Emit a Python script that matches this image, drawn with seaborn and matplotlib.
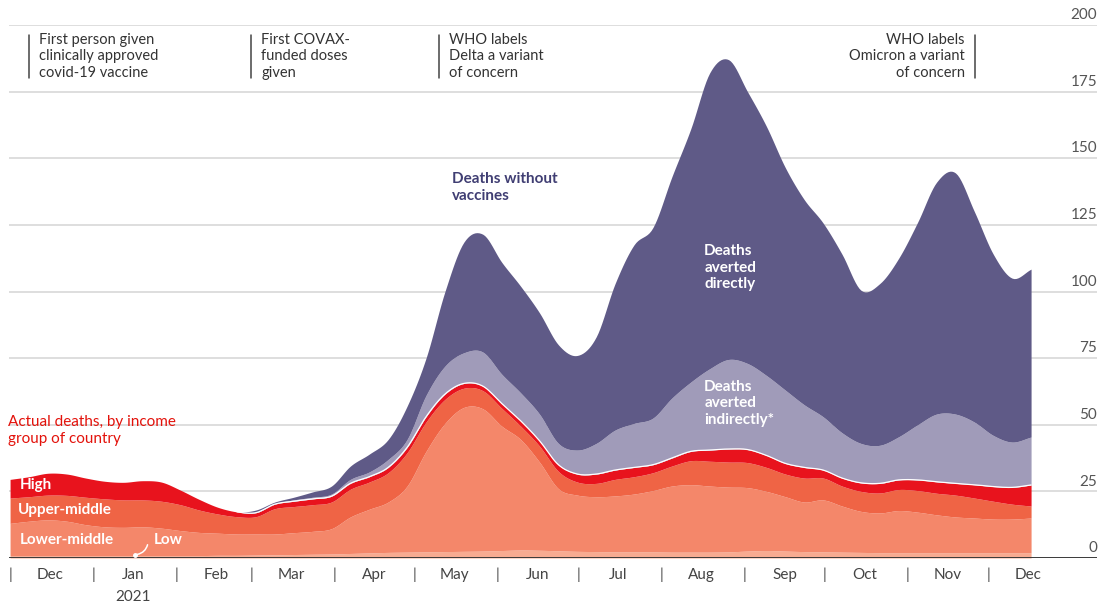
import numpy as np
import pandas as pd
import matplotlib.pyplot as plt
import matplotlib.dates as mdates
import seaborn as sns

# weekly readings, Dec 1st 2020 to Dec 17th 2021 (thousands of deaths per week)
dates = pd.date_range("2020-12-01", "2021-12-17", periods=55)

low = [0.9, 0.9, 0.9, 0.9, 0.9, 0.9, 0.9, 0.9, 0.9, 0.9, 0.9, 1.0, 1.0, 1.1, 1.2,
       1.3, 1.4, 1.5, 1.7, 1.9, 2.1, 2.2, 2.3, 2.4, 2.5, 2.6, 2.8, 3.0, 2.9, 2.7,
       2.5, 2.4, 2.3, 2.3, 2.3, 2.2, 2.2, 2.2, 2.3, 2.6, 2.8, 2.6, 2.4, 2.3, 2.2,
       2.1, 2.0, 2.0, 2.0, 2.0, 2.0, 2.0, 2.0, 2.0, 2.0]
lower_middle = [12.1, 12.9, 13.4, 12.9, 11.6, 10.8, 10.6, 10.8, 10.3, 9.4, 8.7, 8.3, 8.0, 7.9, 7.8,
                8.2, 8.6, 9.5, 13.7, 16.4, 18.9, 24.8, 37.7, 48.1, 54.0, 53.4, 46.7, 41.5, 33.1, 23.3,
                21.1, 20.6, 21.0, 21.7, 23.0, 24.8, 25.3, 24.8, 24.3, 23.8, 22.2, 20.4, 18.6, 19.5, 17.3,
                15.4, 14.9, 15.8, 15.2, 14.2, 13.4, 13.0, 12.6, 12.6, 13.0]
upper_middle = [9.5, 9.2, 9.3, 9.7, 10.3, 10.5, 10.3, 10.1, 10.1, 9.7, 8.4, 7.2, 6.5, 6.5, 9.5,
                9.8, 10.0, 10.0, 10.4, 10.2, 11.0, 12.5, 11.0, 9.0, 7.2, 6.8, 6.7, 5.0, 6.0, 6.5,
                4.9, 5.0, 6.2, 6.5, 6.7, 7.5, 9.0, 9.3, 9.4, 9.4, 9.0, 8.5, 9.0, 8.2, 7.5,
                7.5, 7.5, 7.9, 8.1, 8.1, 8.2, 7.5, 6.7, 5.6, 4.5]
high = [7.0, 7.5, 8.2, 8.0, 7.2, 6.6, 6.6, 7.2, 7.2, 5.5, 4.0, 2.5, 1.8, 1.5, 1.7,
        2.0, 2.2, 2.2, 2.2, 2.0, 2.0, 2.0, 2.0, 2.0, 1.8, 1.7, 1.8, 2.0, 2.0, 2.5,
        3.0, 3.5, 3.5, 3.5, 3.0, 3.0, 3.5, 4.2, 4.9, 4.9, 4.5, 4.0, 4.0, 3.0, 3.0,
        3.2, 3.6, 3.6, 4.0, 4.3, 4.4, 5.0, 5.5, 6.3, 7.9]
averted_indirectly = [0, 0, 0, 0, 0, 0, 0, 0, 0, 0, 0, 0, 0, 0.2, 0.2,
                      0.5, 0.6, 0.8, 1.5, 1.8, 3.0, 3.0, 8.0, 10.5, 11.5, 12.8, 11.0, 10.5, 10.0, 8.0,
                      9.0, 11.5, 15.0, 16.5, 17.5, 22.5, 26.0, 30.5, 33.6, 32.3, 30.0, 27.5, 23.5, 20.0, 17.0,
                      14.8, 14.3, 16.2, 20.7, 25.4, 26.0, 23.5, 19.2, 17.0, 18.0]
averted_directly = [0, 0, 0, 0, 0, 0, 0, 0, 0, 0, 0, 0, 0, 0.8, 0.6,
                    1.0, 2.0, 3.0, 5.0, 6.7, 7.5, 12.5, 14.0, 28.0, 41.5, 44.2, 42.0, 40.0, 38.0, 37.0,
                    35.5, 40.0, 55.0, 67.0, 71.5, 83.0, 95.0, 111.0, 112.5, 102.0, 93.5, 83.5, 77.0, 72.7, 67.0,
                    57.5, 60.7, 67.0, 76.0, 87.0, 90.5, 79.0, 68.0, 61.5, 63.0]

month_labels = ["Dec", "Jan", "Feb", "Mar", "Apr", "May", "Jun",
                "Jul", "Aug", "Sep", "Oct", "Nov", "Dec"]
month_starts = pd.date_range("2020-12-01", "2021-12-01", freq="MS")
y_ticks = [0, 25, 50, 75, 100, 125, 150, 175, 200]

events = [
    ("2020-12-08", "First person given\nclinically approved\ncovid-19 vaccine", "left"),
    ("2021-03-01", "First COVAX-\nfunded doses\ngiven", "left"),
    ("2021-05-10", "WHO labels\nDelta a variant\nof concern", "left"),
    ("2021-11-26", "WHO labels\nOmicron a variant\nof concern", "right"),
]

colours = ["#F8AB91", "#F4876A", "#EF6445", "#E8131D", "#A09BB9", "#5F5A87"]


def smooth(x, y, steps=10):
    """Cubic Hermite (Catmull-Rom) curve through the weekly points, for drawing only."""
    y = np.asarray(y, dtype=float)
    m = np.gradient(y)
    xs, ys = [], []
    for i in range(len(y) - 1):
        t = np.linspace(0, 1, steps, endpoint=False)
        h00 = 2 * t**3 - 3 * t**2 + 1
        h10 = t**3 - 2 * t**2 + t
        h01 = -2 * t**3 + 3 * t**2
        h11 = t**3 - t**2
        ys.append(h00 * y[i] + h10 * m[i] + h01 * y[i + 1] + h11 * m[i + 1])
        xs.append(x[i] + t * (x[i + 1] - x[i]))
    xs.append([x[-1]])
    ys.append([y[-1]])
    return np.concatenate(xs), np.clip(np.concatenate(ys), 0, None)


sns.set_theme(style="white")
plt.rcParams["font.family"] = ["Lato", "DejaVu Sans"]

fig = plt.figure(figsize=(11, 6.08), dpi=100)
ax = fig.add_axes([9 / 1100, 50 / 608, 1088 / 1100, 533 / 608])

start = pd.Timestamp("2020-12-01")
ax.set_xlim(start - pd.Timedelta(days=0.4), start + pd.Timedelta(days=405.6))
ax.set_ylim(0, 200)

# gridlines + right-hand labels
for v in y_ticks[1:]:
    ax.axhline(v, color="#D4D4D4", lw=1.1, zorder=0)
for v in y_ticks:
    ax.annotate(str(v), xy=(1, v), xycoords=("axes fraction", "data"),
                xytext=(0, 2), textcoords="offset points",
                ha="right", va="bottom", fontsize=11, color="#555555")

xnum = mdates.date2num(dates)
layers = []
for series in [low, lower_middle, upper_middle, high, averted_indirectly, averted_directly]:
    xs, ys = smooth(xnum, series)
    layers.append(ys)
ax.stackplot(mdates.num2date(xs), *layers, colors=colours, linewidth=0, zorder=2)

actual = layers[0] + layers[1] + layers[2] + layers[3]
cut = 12 * 10
sns.lineplot(x=mdates.num2date(xs[cut:]), y=actual[cut:], color="white", lw=0.9,
             ax=ax, zorder=3)

ax.axhline(0, color="#3A3A3A", lw=1.4, zorder=4)

# month labels and separators
trans = ax.get_xaxis_transform()
for i, m in enumerate(month_starts):
    ax.text(m, -0.032, "|", ha="center", va="center", fontsize=11,
            color="#444444", transform=trans)
    mid = m + pd.Timedelta(days=15)
    ax.text(mid, -0.032, month_labels[i], ha="center", va="center",
            fontsize=11, color="#444444", transform=trans)
ax.text(pd.Timestamp("2021-01-16"), -0.073, "2021", ha="center", va="center",
        fontsize=11, color="#444444", transform=trans)

# event annotations at the top
for d, label, side in events:
    d = pd.Timestamp(d)
    ax.plot([d, d], [180.2, 196.2], color="#444444", lw=1.1)
    off = pd.Timedelta(days=3.7)
    x = d + off if side == "left" else d - off
    ax.text(x, 188.2, label, ha=side, va="center", fontsize=10.5,
            color="#333333", linespacing=1.2)

# series labels
ax.text(pd.Timestamp("2021-05-15"), 139, "Deaths without\nvaccines",
        fontsize=11, fontweight="bold", color="#403E73", va="center", linespacing=1.25)
ax.text(pd.Timestamp("2021-08-17"), 109, "Deaths\naverted\ndirectly",
        fontsize=11, fontweight="bold", color="white", va="center", linespacing=1.25)
ax.text(pd.Timestamp("2021-08-17"), 58, "Deaths\naverted\nindirectly*",
        fontsize=11, fontweight="bold", color="white", va="center", linespacing=1.25)
ax.text(start - pd.Timedelta(days=0.8), 47.8, "Actual deaths, by income\ngroup of country",
        fontsize=11, color="#E3120B", va="center", linespacing=1.25)
ax.text(start + pd.Timedelta(days=3.7), 27.4, "High", fontsize=11,
        fontweight="bold", color="white", va="center")
ax.text(start + pd.Timedelta(days=3.0), 18.0, "Upper-middle", fontsize=11,
        fontweight="bold", color="white", va="center")
ax.text(start + pd.Timedelta(days=3.7), 6.8, "Lower-middle", fontsize=11,
        fontweight="bold", color="white", va="center")
ax.text(start + pd.Timedelta(days=53.7), 6.8, "Low", fontsize=11,
        fontweight="bold", color="white", va="center")
ax.annotate("", xy=(start + pd.Timedelta(days=46.5), 1.2),
            xytext=(start + pd.Timedelta(days=51.5), 6.0),
            arrowprops=dict(arrowstyle="-", color="white", lw=1.1,
                            connectionstyle="arc3,rad=-0.4"), zorder=5)
ax.plot([start + pd.Timedelta(days=46.5)], [1.2], "o", color="white", ms=2.5, zorder=5)

for s in ax.spines.values():
    s.set_visible(False)
ax.set_xticks([])
ax.set_yticks([])
ax.set_xlabel("")
ax.set_ylabel("")

fig.savefig("out.png", dpi=100)
